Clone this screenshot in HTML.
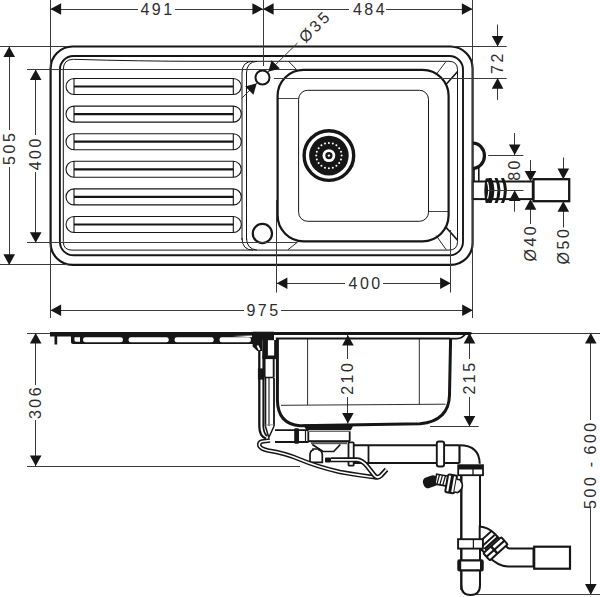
<!DOCTYPE html>
<html><head><meta charset="utf-8"><style>
html,body{margin:0;padding:0;background:#fff;}
svg{display:block;font-family:"Liberation Sans",sans-serif;}
</style></head><body>
<svg width="600" height="597" viewBox="0 0 600 597">
<rect width="600" height="597" fill="#fff"/>
<g fill="none">
<rect x="50.6" y="46.5" width="422.0" height="218.39999999999998" rx="22" ry="22" stroke="#161616" stroke-width="2.2" fill="none"/>
<rect x="59.9" y="56" width="403.1" height="199.3" rx="13.5" ry="13.5" stroke="#161616" stroke-width="1.9" fill="none"/>
<path d="M63.3,241.6 L63.3,69.5 Q63.3,59.3 73.5,59.3 Q140,61.3 200,61.3 L449,61.3 Q457.5,61.3 457.5,69.8 L457.5,241.6 Q457.5,250.1 449,250.1 L72,250.1 Q63.3,250.1 63.3,241.6 Z" stroke="#161616" stroke-width="1.0" fill="none" />
</g>
<path d="M242,240 L242,73 Q242,61.3 253,61.3 M246.5,240 L246.5,73 Q246.5,62 257,61.3" stroke="#161616" stroke-width="1.0" fill="none" />
<path d="M242,238 Q242,250.1 253,250.1 M246.5,238 Q246.5,249 257,250.1" stroke="#161616" stroke-width="1.0" fill="none" />
<path d="M74,78.5 L233.3,78.5 A8,8 0 0 1 233.3,94.5 L74,94.5 A8,8 0 0 1 74,78.5 Z M74,78.5 L74,94.5 M233.3,78.5 L233.3,94.5" stroke="#161616" stroke-width="1.1" fill="none" />
<line x1="74" y1="86.5" x2="233.3" y2="86.5" stroke="#161616" stroke-width="2.2"/>
<path d="M74,106.1 L233.3,106.1 A8,8 0 0 1 233.3,122.1 L74,122.1 A8,8 0 0 1 74,106.1 Z M74,106.1 L74,122.1 M233.3,106.1 L233.3,122.1" stroke="#161616" stroke-width="1.1" fill="none" />
<line x1="74" y1="114.1" x2="233.3" y2="114.1" stroke="#161616" stroke-width="2.2"/>
<path d="M74,133.7 L233.3,133.7 A8,8 0 0 1 233.3,149.7 L74,149.7 A8,8 0 0 1 74,133.7 Z M74,133.7 L74,149.7 M233.3,133.7 L233.3,149.7" stroke="#161616" stroke-width="1.1" fill="none" />
<line x1="74" y1="141.7" x2="233.3" y2="141.7" stroke="#161616" stroke-width="2.2"/>
<path d="M74,161.3 L233.3,161.3 A8,8 0 0 1 233.3,177.3 L74,177.3 A8,8 0 0 1 74,161.3 Z M74,161.3 L74,177.3 M233.3,161.3 L233.3,177.3" stroke="#161616" stroke-width="1.1" fill="none" />
<line x1="74" y1="169.3" x2="233.3" y2="169.3" stroke="#161616" stroke-width="2.2"/>
<path d="M74,188.9 L233.3,188.9 A8,8 0 0 1 233.3,204.9 L74,204.9 A8,8 0 0 1 74,188.9 Z M74,188.9 L74,204.9 M233.3,188.9 L233.3,204.9" stroke="#161616" stroke-width="1.1" fill="none" />
<line x1="74" y1="196.9" x2="233.3" y2="196.9" stroke="#161616" stroke-width="2.2"/>
<path d="M74,216.5 L233.3,216.5 A8,8 0 0 1 233.3,232.5 L74,232.5 A8,8 0 0 1 74,216.5 Z M74,216.5 L74,232.5 M233.3,216.5 L233.3,232.5" stroke="#161616" stroke-width="1.1" fill="none" />
<line x1="74" y1="224.5" x2="233.3" y2="224.5" stroke="#161616" stroke-width="2.2"/>
<circle cx="262.5" cy="77.5" r="7" stroke="#161616" stroke-width="2" fill="white"/>
<circle cx="262.4" cy="233.5" r="9.6" stroke="#161616" stroke-width="2.2" fill="white"/>
<rect x="277.6" y="69.8" width="171" height="171.5" rx="26" ry="26" stroke="#161616" stroke-width="2.2" fill="none"/>
<rect x="298.6" y="90.3" width="129.9" height="131" rx="9" ry="9" stroke="#161616" stroke-width="1" fill="none"/>
<line x1="288.3" y1="61" x2="296.7" y2="69.7" stroke="#161616" stroke-width="0.9"/>
<line x1="436.9" y1="73.5" x2="445.6" y2="62.1" stroke="#161616" stroke-width="0.9"/>
<line x1="446.2" y1="84.2" x2="457.6" y2="71.5" stroke="#161616" stroke-width="1.6"/>
<line x1="288" y1="249.7" x2="298.9" y2="241" stroke="#161616" stroke-width="0.9"/>
<line x1="436.2" y1="235.6" x2="446.2" y2="249.7" stroke="#161616" stroke-width="0.9"/>
<line x1="445.6" y1="226.9" x2="457.6" y2="240.3" stroke="#161616" stroke-width="1.6"/>
<line x1="278" y1="98.5" x2="298.5" y2="98.5" stroke="#161616" stroke-width="0.8"/>
<line x1="428.3" y1="211.5" x2="449" y2="211.5" stroke="#161616" stroke-width="0.8"/>
<circle cx="328.9" cy="155.6" r="24.8" stroke="#161616" stroke-width="3.4" fill="white"/>
<circle cx="328.9" cy="155.6" r="19.8" fill="#161616"/>
<circle cx="341.60" cy="155.60" r="1.0" fill="#fff"/>
<circle cx="340.98" cy="159.52" r="1.0" fill="#fff"/>
<circle cx="339.17" cy="163.06" r="1.0" fill="#fff"/>
<circle cx="336.36" cy="165.87" r="1.0" fill="#fff"/>
<circle cx="332.82" cy="167.68" r="1.0" fill="#fff"/>
<circle cx="328.90" cy="168.30" r="1.0" fill="#fff"/>
<circle cx="324.98" cy="167.68" r="1.0" fill="#fff"/>
<circle cx="321.44" cy="165.87" r="1.0" fill="#fff"/>
<circle cx="318.63" cy="163.06" r="1.0" fill="#fff"/>
<circle cx="316.82" cy="159.52" r="1.0" fill="#fff"/>
<circle cx="316.20" cy="155.60" r="1.0" fill="#fff"/>
<circle cx="316.82" cy="151.68" r="1.0" fill="#fff"/>
<circle cx="318.63" cy="148.14" r="1.0" fill="#fff"/>
<circle cx="321.44" cy="145.33" r="1.0" fill="#fff"/>
<circle cx="324.98" cy="143.52" r="1.0" fill="#fff"/>
<circle cx="328.90" cy="142.90" r="1.0" fill="#fff"/>
<circle cx="332.82" cy="143.52" r="1.0" fill="#fff"/>
<circle cx="336.36" cy="145.33" r="1.0" fill="#fff"/>
<circle cx="339.17" cy="148.14" r="1.0" fill="#fff"/>
<circle cx="340.98" cy="151.68" r="1.0" fill="#fff"/>
<circle cx="328.9" cy="155.6" r="6.4" fill="white"/>
<circle cx="328.9" cy="155.6" r="3.6" fill="#161616"/>
<circle cx="328.9" cy="155.6" r="1.2" fill="white"/>
<path d="M472.8,143.2 A11.6,12.5 0 0 1 472.8,168.3" stroke="#161616" stroke-width="3.2" fill="none" />
<path d="M474,168 L474,181 M478.8,167 L478.8,181" stroke="#161616" stroke-width="1.6" fill="none" />
<rect x="472.8" y="181.5" width="60" height="17.6" stroke="#161616" stroke-width="2" fill="white"/>
<path d="M488.5,178 Q494.5,190.3 488.5,203 L491.5,203 Q497.5,190.3 491.5,178 Z" fill="#161616"/>
<path d="M494.5,178 Q500.5,190.3 494.5,203 L497.5,203 Q503.5,190.3 497.5,178 Z" fill="#161616"/>
<path d="M501,178 Q507,190.3 501,203 L504,203 Q510,190.3 504,178 Z" fill="#161616"/>
<path d="M485.7,178.5 Q491,177.5 493,181 L493,199 Q491,203.5 485.7,203 Q483,190.3 485.7,178.5 Z" fill="#161616"/>
<path d="M487.5,182 Q490,190.3 487.5,198.5" stroke="#fff" stroke-width="1.2" fill="none"/>
<rect x="533.5" y="179.2" width="35.7" height="22" stroke="#161616" stroke-width="2.3" fill="white"/>
<line x1="472.8" y1="333.5" x2="600" y2="333.5" stroke="#3a3a3a" stroke-width="1.0"/>
<line x1="27" y1="333.5" x2="50" y2="333.5" stroke="#3a3a3a" stroke-width="1.0"/>
<line x1="35.5" y1="333" x2="35.5" y2="385" stroke="#3a3a3a" stroke-width="1.0"/>
<line x1="35.5" y1="420" x2="35.5" y2="466" stroke="#3a3a3a" stroke-width="1.0"/>
<polygon points="35.70,333.00 41.50,343.60 29.90,343.60" fill="#161616"/>
<polygon points="35.70,466.00 29.90,455.40 41.50,455.40" fill="#161616"/>
<text x="35.7" y="402" font-size="16" letter-spacing="2.5" fill="#2e2e2e" text-anchor="middle" dominant-baseline="central" transform="rotate(-90 35.7 402)">306</text>
<line x1="27" y1="466.5" x2="300" y2="466.5" stroke="#3a3a3a" stroke-width="1.0"/>
<line x1="469.5" y1="333" x2="469.5" y2="359" stroke="#3a3a3a" stroke-width="1.0"/>
<line x1="469.5" y1="397" x2="469.5" y2="426.5" stroke="#3a3a3a" stroke-width="1.0"/>
<polygon points="469.50,333.00 475.30,343.60 463.70,343.60" fill="#161616"/>
<polygon points="469.50,426.50 463.70,415.90 475.30,415.90" fill="#161616"/>
<text x="469.5" y="377.5" font-size="16" letter-spacing="2.5" fill="#2e2e2e" text-anchor="middle" dominant-baseline="central" transform="rotate(-90 469.5 377.5)">215</text>
<line x1="430" y1="426.5" x2="478.7" y2="426.5" stroke="#3a3a3a" stroke-width="1.0"/>
<line x1="347.5" y1="335" x2="347.5" y2="359" stroke="#3a3a3a" stroke-width="1.0"/>
<line x1="347.5" y1="397" x2="347.5" y2="423.5" stroke="#3a3a3a" stroke-width="1.0"/>
<polygon points="347.90,335.00 353.70,345.60 342.10,345.60" fill="#161616"/>
<polygon points="347.90,423.50 342.10,412.90 353.70,412.90" fill="#161616"/>
<text x="347.9" y="377.7" font-size="16" letter-spacing="2.5" fill="#2e2e2e" text-anchor="middle" dominant-baseline="central" transform="rotate(-90 347.9 377.7)">210</text>
<line x1="590.5" y1="333" x2="590.5" y2="420" stroke="#3a3a3a" stroke-width="1.0"/>
<line x1="590.5" y1="508" x2="590.5" y2="594.7" stroke="#3a3a3a" stroke-width="1.0"/>
<polygon points="590.80,333.00 596.60,343.60 585.00,343.60" fill="#161616"/>
<polygon points="590.80,594.70 585.00,584.10 596.60,584.10" fill="#161616"/>
<text x="590.8" y="491.8" font-size="16" letter-spacing="2.5" fill="#2e2e2e" text-anchor="middle" dominant-baseline="central" transform="rotate(-90 590.8 491.8)">500</text>
<text x="590.8" y="437.4" font-size="16" letter-spacing="2.5" fill="#2e2e2e" text-anchor="middle" dominant-baseline="central" transform="rotate(-90 590.8 437.4)">600</text>
<text x="590.8" y="464.5" font-size="16" letter-spacing="0" fill="#2e2e2e" text-anchor="middle" dominant-baseline="central" transform="rotate(-90 590.8 464.5)">-</text>
<line x1="472" y1="594.5" x2="600" y2="594.5" stroke="#3a3a3a" stroke-width="1.0"/>
<path d="M50,332 L470,332 L473.5,333.2 L470,335 L50,335 Z" fill="#161616"/>
<rect x="50" y="332" width="203" height="4.5" fill="#161616"/>
<rect x="71" y="332" width="182" height="4.6" fill="#161616"/>
<rect x="54.5" y="334" width="2.7" height="10.5" fill="#161616"/>
<path d="M71,334 L253,334 L253,344 L73,344 Q71,344 71,342 Z" fill="#161616"/>
<rect x="83" y="337.3" width="40" height="5" rx="2.4" fill="#fff"/>
<rect x="128.5" y="337.3" width="40.30000000000001" height="5" rx="2.4" fill="#fff"/>
<rect x="174.5" y="337.3" width="39.30000000000001" height="5" rx="2.4" fill="#fff"/>
<rect x="219.5" y="337.3" width="31.5" height="5" rx="2.4" fill="#fff"/>
<path d="M74.5,337.3 L74.5,340.3 Q74.5,341.8 76.5,341.8 L80,341.8 L80,337.3 Z" fill="#fff"/>
<path d="M232,336 L252,335.4 L252,337.2 Z" fill="#fff"/>
<rect x="252.6" y="331.7" width="21.4" height="8.5" fill="#161616"/>
<path d="M252.6,340 L262.6,340 L262.6,351 L257.3,351 L252.6,346.5 Z" fill="#161616"/>
<path d="M256.6,346 L258.2,345 L260.4,349.6 L258.8,350.4 Z" fill="#fff"/>
<path d="M259.3,351 L259.3,426 Q259.3,436.5 266,438.5" stroke="#161616" stroke-width="2.3" fill="none" />
<path d="M263.3,351 L263.3,426 Q263.5,433 267,436" stroke="#161616" stroke-width="1.8" fill="none" />
<rect x="262.6" y="340" width="5.3" height="19" fill="#161616"/>
<rect x="262.6" y="355.5" width="13.4" height="3.6" fill="#161616"/>
<path d="M275.1,340 L275.1,359" stroke="#161616" stroke-width="1.9" fill="none" />
<path d="M264.6,359 L264.6,377.5 M273.7,359 L273.7,377.5" stroke="#161616" stroke-width="1.9" fill="none" />
<path d="M264.6,377.5 L273.7,377.5" stroke="#161616" stroke-width="1.5" fill="none" />
<rect x="257.9" y="368.4" width="6.4" height="11.2" fill="#161616"/>
<path d="M265.4,378 L265.4,426.3 M274,378 L274,426.3" stroke="#161616" stroke-width="1.8" fill="none" />
<path d="M269,378 L269,426" stroke="#161616" stroke-width="1.1" fill="none" />
<path d="M265.4,424.8 L274,424.8" stroke="#888" stroke-width="0.8" fill="none" />
<path d="M265.4,426.3 L268.8,437.5 L274,426.3" stroke="#161616" stroke-width="1.5" fill="none" />
<path d="M277.4,338.8 L277.4,400 Q277.7,424 300,425.8 L420,423.8 Q449,421 449.5,395 L450.6,338.8" stroke="#161616" stroke-width="3.0" fill="none" />
<path d="M275.8,338.4 L450,338.4" stroke="#161616" stroke-width="2.0" fill="none" />
<path d="M450,338.6 L457,338.6 Q462,338.4 465,334.5" stroke="#161616" stroke-width="1.8" fill="none" />
<path d="M281,405.3 L445.5,404.2 M307.6,338.8 L307.6,405 M419.3,338.8 L419.3,404.2" stroke="#161616" stroke-width="0.9" fill="none" />
<path d="M275,430.2 L308.5,430.2 M275,442 L308.5,442" stroke="#161616" stroke-width="1.8" fill="none" />
<rect x="294.2" y="428.2" width="4.8" height="15.6" rx="1" fill="#161616"/>
<path d="M305.5,430.2 L305.5,442" stroke="#161616" stroke-width="1.2" fill="none" />
<path d="M303,424.6 L353.7,424.6 L351,429.9 L306.3,429.9 Z" fill="#161616"/>
<path d="M307,431.2 L350.5,431.2" stroke="#161616" stroke-width="0.9" fill="none" />
<path d="M308.3,431.8 L308.3,441 M349.7,431.8 L349.7,441" stroke="#161616" stroke-width="1.8" fill="none" />
<rect x="308" y="440.2" width="42" height="2" fill="#161616"/>
<rect x="311" y="442.2" width="36" height="2" fill="#555"/>
<path d="M312.3,444.5 L323,451.5 L333.7,451.5 L340.3,444.5" stroke="#161616" stroke-width="1.7" fill="none" />
<path d="M310,462.3 L310,455 Q310,451 313,450 L313,449 L319,449 L319,450 Q322.3,451 322.3,455 L322.3,462.3 Z" stroke="#161616" stroke-width="1.7" fill="#fff" />
<rect x="325" y="457.4" width="6" height="5.2" rx="1" fill="#161616"/>
<path d="M353.7,445.2 L459.5,445.2 M353.7,462.9 L459.5,462.9" stroke="#161616" stroke-width="2.0" fill="none" />
<rect x="348.5" y="442.3" width="5.2" height="23.4" rx="1" fill="#fff" stroke="#161616" stroke-width="1.8"/>
<path d="M368.5,445 L368.5,463" stroke="#161616" stroke-width="1.8" fill="none" />
<rect x="436.8" y="441.5" width="7.3" height="25" rx="2" fill="#fff" stroke="#161616" stroke-width="1.9"/>
<path d="M459.5,445 L459.5,463.1" stroke="#161616" stroke-width="2.2" fill="none" />
<path d="M459.5,445.2 Q479.5,445.2 479.7,463.8" stroke="#161616" stroke-width="2.0" fill="none" />
<rect x="458.2" y="465.2" width="24.8" height="10" fill="#fff" stroke="#161616" stroke-width="1.8"/>
<rect x="458.2" y="465" width="24.8" height="4.5" fill="#161616"/>
<path d="M473,469 L473,475" stroke="#161616" stroke-width="1.3" fill="none" />
<path d="M461.3,475 L461.3,585 Q461.3,595 470.6,595 Q480,595 480,585 L480,475" stroke="#161616" stroke-width="2.0" fill="none" />
<path d="M479.7,526.5 Q488,527 495,534 L506,546 Q507.5,548.6 510,548.6 L533.5,548.6 L533.5,566.4 L508,566.4 Q498,566.4 488,556 L479.7,548 Z" fill="#fff" stroke="#161616" stroke-width="2"/>
<g transform="translate(495.5,548.8) rotate(-42)"><rect x="-12" y="-4.8" width="24" height="9.6" rx="1" fill="#fff" stroke="#161616" stroke-width="2"/><rect x="-12" y="-1.2" width="24" height="2.2" fill="#161616"/><rect x="-3" y="-4.8" width="2.5" height="9.6" fill="#161616"/></g>
<g transform="translate(487,538.5) rotate(-42)"><path d="M-8,-2.5 L8,-2.5 M-8,2.5 L8,2.5" stroke="#161616" stroke-width="1.8"/><rect x="-9" y="5" width="18" height="2.6" fill="#161616"/></g>
<path d="M461.3,475 L461.3,590 M480,475 L480,526.5 M480,548 L480,585" stroke="#161616" stroke-width="2.0" fill="none" />
<rect x="458.1" y="539.2" width="24.8" height="9.4" fill="#fff" stroke="#161616" stroke-width="1.9"/>
<path d="M473.4,539.2 L473.4,548.6" stroke="#161616" stroke-width="1.2" fill="none" />
<rect x="458.3" y="560.4" width="24.4" height="10" rx="1.2" fill="#fff" stroke="#161616" stroke-width="2.1"/>
<rect x="458" y="560" width="3.2" height="10.8" fill="#161616"/>
<rect x="480" y="560.4" width="2.8" height="10" fill="#161616"/>
<rect x="534.2" y="546.7" width="35.8" height="22" fill="#fff" stroke="#161616" stroke-width="2.2"/>
<g transform="rotate(10 455 485)"><g transform="rotate(-28 436 483)"><rect x="422" y="477.5" width="15" height="11" rx="4.5" fill="#161616"/></g><rect x="435" y="477.5" width="11.5" height="10" fill="#fff" stroke="#161616" stroke-width="1.6"/><path d="M438,477.5 L437,487.5 M441,477.5 L440,487.5 M444,477.5 L443,487.5" stroke="#161616" stroke-width="1.3"/><rect x="446.5" y="475.5" width="9" height="18" rx="1.5" fill="#fff" stroke="#161616" stroke-width="2"/><rect x="449.5" y="475.5" width="3" height="18" fill="#161616"/><path d="M455.5,479 L459,479 Q466,485.5 459,492 L455.5,492" fill="#fff" stroke="#161616" stroke-width="1.6"/></g>
<path d="M270,440.5 L262,441.5 Q258.5,442.5 259.5,446 Q261,449 268,450.5 Q285,453 300,459.5 Q318,467 340,472 Q360,475.5 377,477.5" stroke="#161616" stroke-width="4.6" fill="none" />
<path d="M270,440.5 L262,441.5 Q258.5,442.5 259.5,446 Q261,449 268,450.5 Q285,453 300,459.5 Q318,467 340,472 Q360,475.5 377,477.5" stroke="#fff" stroke-width="1.6" fill="none" />
<path d="M331,459.8 L357,459.8 Q362,460 367,466 L374.5,475.5 Q377.5,479 381,475.5 L386.5,469.5" stroke="#161616" stroke-width="5.0" fill="none" />
<path d="M331,459.8 L357,459.8 Q362,460 367,466 L374.5,475.5 Q377.5,479 381,475.5 L386.5,469.5" stroke="#fff" stroke-width="1.8" fill="none" />
<line x1="50" y1="9.5" x2="138" y2="9.5" stroke="#3a3a3a" stroke-width="1.0"/>
<line x1="175" y1="9.5" x2="349" y2="9.5" stroke="#3a3a3a" stroke-width="1.0"/>
<line x1="386" y1="9.5" x2="472.5" y2="9.5" stroke="#3a3a3a" stroke-width="1.0"/>
<polygon points="50.50,9.00 61.10,3.20 61.10,14.80" fill="#161616"/>
<polygon points="263.00,9.00 252.40,14.80 252.40,3.20" fill="#161616"/>
<polygon points="263.00,9.00 273.60,3.20 273.60,14.80" fill="#161616"/>
<polygon points="472.50,9.00 461.90,14.80 461.90,3.20" fill="#161616"/>
<text x="157.5" y="9.5" font-size="16" letter-spacing="2.5" fill="#2e2e2e" text-anchor="middle" dominant-baseline="central">491</text>
<text x="370" y="9.5" font-size="16" letter-spacing="2.5" fill="#2e2e2e" text-anchor="middle" dominant-baseline="central">484</text>
<line x1="50.5" y1="0" x2="50.5" y2="68" stroke="#3a3a3a" stroke-width="1.0"/>
<line x1="263.5" y1="0" x2="263.5" y2="66" stroke="#3a3a3a" stroke-width="1.0"/>
<line x1="472.5" y1="0" x2="472.5" y2="318" stroke="#3a3a3a" stroke-width="1.0"/>
<line x1="50.5" y1="244" x2="50.5" y2="318" stroke="#3a3a3a" stroke-width="1.0"/>
<line x1="0" y1="46.5" x2="68" y2="46.5" stroke="#3a3a3a" stroke-width="1.0"/>
<line x1="0" y1="264.5" x2="68" y2="264.5" stroke="#3a3a3a" stroke-width="1.0"/>
<line x1="9.5" y1="46.5" x2="9.5" y2="130" stroke="#3a3a3a" stroke-width="1.0"/>
<line x1="9.5" y1="167" x2="9.5" y2="264.9" stroke="#3a3a3a" stroke-width="1.0"/>
<polygon points="9.20,46.50 15.00,57.10 3.40,57.10" fill="#161616"/>
<polygon points="9.20,264.90 3.40,254.30 15.00,254.30" fill="#161616"/>
<text x="9.2" y="147.8" font-size="16" letter-spacing="2.5" fill="#2e2e2e" text-anchor="middle" dominant-baseline="central" transform="rotate(-90 9.2 147.8)">505</text>
<line x1="27" y1="69.5" x2="297" y2="69.5" stroke="#3a3a3a" stroke-width="1.0"/>
<line x1="27" y1="242.5" x2="297" y2="242.5" stroke="#3a3a3a" stroke-width="1.0"/>
<line x1="35.5" y1="69.5" x2="35.5" y2="135" stroke="#3a3a3a" stroke-width="1.0"/>
<line x1="35.5" y1="172" x2="35.5" y2="242.8" stroke="#3a3a3a" stroke-width="1.0"/>
<polygon points="35.70,69.50 41.50,80.10 29.90,80.10" fill="#161616"/>
<polygon points="35.70,242.80 29.90,232.20 41.50,232.20" fill="#161616"/>
<text x="35.7" y="153.2" font-size="16" letter-spacing="2.5" fill="#2e2e2e" text-anchor="middle" dominant-baseline="central" transform="rotate(-90 35.7 153.2)">400</text>
<line x1="50.5" y1="310.5" x2="244" y2="310.5" stroke="#3a3a3a" stroke-width="1.0"/>
<line x1="281" y1="310.5" x2="472.8" y2="310.5" stroke="#3a3a3a" stroke-width="1.0"/>
<polygon points="50.50,310.30 61.10,304.50 61.10,316.10" fill="#161616"/>
<polygon points="472.80,310.30 462.20,316.10 462.20,304.50" fill="#161616"/>
<text x="263.5" y="310.8" font-size="16" letter-spacing="2.5" fill="#2e2e2e" text-anchor="middle" dominant-baseline="central">975</text>
<line x1="276.5" y1="200" x2="276.5" y2="292.5" stroke="#3a3a3a" stroke-width="1.0"/>
<line x1="450.5" y1="230" x2="450.5" y2="292.5" stroke="#3a3a3a" stroke-width="1.0"/>
<line x1="276.8" y1="283.5" x2="345" y2="283.5" stroke="#3a3a3a" stroke-width="1.0"/>
<line x1="383" y1="283.5" x2="450.7" y2="283.5" stroke="#3a3a3a" stroke-width="1.0"/>
<polygon points="276.80,283.30 287.40,277.50 287.40,289.10" fill="#161616"/>
<polygon points="450.70,283.30 440.10,289.10 440.10,277.50" fill="#161616"/>
<text x="365.6" y="283.8" font-size="16" letter-spacing="2.5" fill="#2e2e2e" text-anchor="middle" dominant-baseline="central">400</text>
<line x1="452" y1="46.5" x2="506.6" y2="46.5" stroke="#3a3a3a" stroke-width="1.0"/>
<line x1="274" y1="78.5" x2="506.6" y2="78.5" stroke="#3a3a3a" stroke-width="1.0"/>
<line x1="497.5" y1="24.5" x2="497.5" y2="46.5" stroke="#3a3a3a" stroke-width="1.0"/>
<line x1="497.5" y1="78.1" x2="497.5" y2="99.9" stroke="#3a3a3a" stroke-width="1.0"/>
<polygon points="497.60,46.50 491.80,35.90 503.40,35.90" fill="#161616"/>
<polygon points="497.60,78.10 503.40,88.70 491.80,88.70" fill="#161616"/>
<text x="497.9" y="62.6" font-size="16" letter-spacing="2.5" fill="#2e2e2e" text-anchor="middle" dominant-baseline="central" transform="rotate(-90 497.9 62.6)">72</text>
<line x1="488.2" y1="155.5" x2="523.4" y2="155.5" stroke="#3a3a3a" stroke-width="1.0"/>
<line x1="488" y1="190.5" x2="523.5" y2="190.5" stroke="#3a3a3a" stroke-width="1.0"/>
<line x1="514.5" y1="133" x2="514.5" y2="155.1" stroke="#3a3a3a" stroke-width="1.0"/>
<line x1="514.5" y1="199" x2="514.5" y2="211.7" stroke="#3a3a3a" stroke-width="1.0"/>
<polygon points="514.70,155.10 508.90,144.50 520.50,144.50" fill="#161616"/>
<polygon points="514.70,190.30 520.50,200.90 508.90,200.90" fill="#161616"/>
<text x="515" y="169.4" font-size="16" letter-spacing="2.5" fill="#2e2e2e" text-anchor="middle" dominant-baseline="central" transform="rotate(-90 515 169.4)">80</text>
<line x1="530.5" y1="160" x2="530.5" y2="181.7" stroke="#3a3a3a" stroke-width="1.0"/>
<line x1="530.5" y1="199.1" x2="530.5" y2="224" stroke="#3a3a3a" stroke-width="1.0"/>
<polygon points="530.50,181.50 524.70,170.90 536.30,170.90" fill="#161616"/>
<polygon points="530.50,199.10 536.30,209.70 524.70,209.70" fill="#161616"/>
<text x="530.8" y="242.6" font-size="16" letter-spacing="2.5" fill="#2e2e2e" text-anchor="middle" dominant-baseline="central" transform="rotate(-90 530.8 242.6)">Ø40</text>
<line x1="563.5" y1="157.5" x2="563.5" y2="179.2" stroke="#3a3a3a" stroke-width="1.0"/>
<line x1="563.5" y1="201.2" x2="563.5" y2="227.5" stroke="#3a3a3a" stroke-width="1.0"/>
<polygon points="563.30,179.20 557.50,168.60 569.10,168.60" fill="#161616"/>
<polygon points="563.30,201.20 569.10,211.80 557.50,211.80" fill="#161616"/>
<text x="563.3" y="245.5" font-size="16" letter-spacing="2.5" fill="#2e2e2e" text-anchor="middle" dominant-baseline="central" transform="rotate(-90 563.3 245.5)">Ø50</text>
<line x1="241.7" y1="98.3" x2="256.8" y2="83.2" stroke="#3a3a3a" stroke-width="1.0"/>
<line x1="268.2" y1="71.8" x2="297.5" y2="43" stroke="#3a3a3a" stroke-width="1.0"/>
<polygon points="256.80,83.20 253.41,94.80 245.20,86.59" fill="#161616"/>
<polygon points="268.20,71.80 271.59,60.20 279.80,68.41" fill="#161616"/>
<text x="315" y="26.5" font-size="16" letter-spacing="2.5" fill="#2e2e2e" text-anchor="middle" dominant-baseline="central" transform="rotate(-45 315 26.5)">Ø35</text>
</svg></body></html>
